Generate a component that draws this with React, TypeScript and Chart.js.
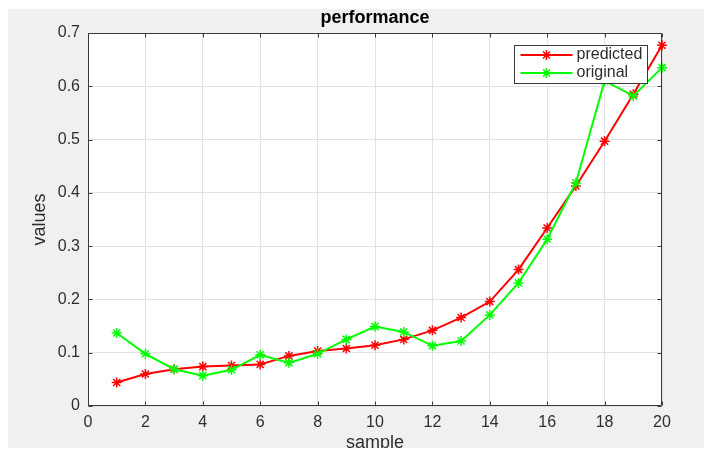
import { useEffect, useRef } from "react";
import { Chart, registerables } from "chart.js";

Chart.register(...registerables);

const samples = [1, 2, 3, 4, 5, 6, 7, 8, 9, 10, 11, 12, 13, 14, 15, 16, 17, 18, 19, 20];
const predicted = [0.044, 0.060, 0.069, 0.074, 0.076, 0.078, 0.094, 0.103, 0.108, 0.114, 0.125, 0.142, 0.166, 0.196, 0.256, 0.334, 0.413, 0.497, 0.585, 0.677];
const original = [0.137, 0.098, 0.069, 0.057, 0.068, 0.096, 0.081, 0.098, 0.125, 0.149, 0.139, 0.113, 0.122, 0.171, 0.231, 0.313, 0.419, 0.610, 0.582, 0.635];
const xTicks = [0, 2, 4, 6, 8, 10, 12, 14, 16, 18, 20];
const yTicks = [0, 0.1, 0.2, 0.3, 0.4, 0.5, 0.6, 0.7];
const seriesLabels = ["predicted", "original"];
const seriesColors = ["#ff0000", "#00ff00"];
const chartTitle = "performance";
const xTitle = "sample";
const yTitle = "values";

const FONT = "'Liberation Sans', Arial, Helvetica, sans-serif";
const AXIS_COLOR = "#3a3a3a";
const TEXT_COLOR = "#2e2e2e";

function drawStar(ctx: CanvasRenderingContext2D, x: number, y: number, r: number) {
  const d = r * Math.SQRT1_2;
  ctx.beginPath();
  ctx.moveTo(x - r, y);
  ctx.lineTo(x + r, y);
  ctx.moveTo(x, y - r);
  ctx.lineTo(x, y + r);
  ctx.moveTo(x - d, y - d);
  ctx.lineTo(x + d, y + d);
  ctx.moveTo(x - d, y + d);
  ctx.lineTo(x + d, y - d);
  ctx.stroke();
}

const framePlugin = {
  id: "matlabFrame",
  beforeDraw(chart: any) {
    const { ctx, chartArea: ca } = chart;
    ctx.save();
    ctx.fillStyle = "#ffffff";
    ctx.fillRect(ca.left, ca.top, ca.right - ca.left, ca.bottom - ca.top);
    ctx.restore();
  },
  afterDatasetsDraw(chart: any) {
    const { ctx, chartArea: ca } = chart;
    const xs = chart.scales.x;
    const ys = chart.scales.y;
    ctx.save();
    ctx.strokeStyle = AXIS_COLOR;
    ctx.lineWidth = 1;
    const L = Math.round(ca.left) + 0.5;
    const R = Math.round(ca.right) - 0.5;
    const T = Math.round(ca.top) + 0.5;
    const B = Math.round(ca.bottom) - 0.5;
    ctx.beginPath();
    ctx.rect(L, T, R - L, B - T);
    ctx.stroke();
    const tl = 4;
    ctx.beginPath();
    xTicks.forEach((v) => {
      const px = Math.round(xs.getPixelForValue(v)) + 0.5;
      ctx.moveTo(px, B);
      ctx.lineTo(px, B - tl);
      ctx.moveTo(px, T);
      ctx.lineTo(px, T + tl);
    });
    yTicks.forEach((v) => {
      const py = Math.round(ys.getPixelForValue(v)) + 0.5;
      ctx.moveTo(L, py);
      ctx.lineTo(L + tl, py);
      ctx.moveTo(R, py);
      ctx.lineTo(R - tl, py);
    });
    ctx.stroke();

    // legend box (inside axes, north-east)
    const w = 133;
    const h = 38;
    const x0 = Math.round(ca.right - 15 - w) + 0.5;
    const y0 = Math.round(ca.top + 12) + 0.5;
    ctx.fillStyle = "#ffffff";
    ctx.fillRect(x0, y0, w, h);
    ctx.strokeStyle = AXIS_COLOR;
    ctx.lineWidth = 1;
    ctx.strokeRect(x0, y0, w, h);
    seriesLabels.forEach((label, i) => {
      const yy = y0 + 9.5 + i * 18;
      ctx.strokeStyle = seriesColors[i];
      ctx.lineWidth = 2;
      ctx.beginPath();
      ctx.moveTo(x0 + 6, yy);
      ctx.lineTo(x0 + 58, yy);
      ctx.stroke();
      ctx.lineWidth = 1.5;
      drawStar(ctx, x0 + 32, yy, 5);
      ctx.fillStyle = TEXT_COLOR;
      ctx.font = `16px ${FONT}`;
      ctx.textBaseline = "middle";
      ctx.textAlign = "left";
      ctx.fillText(label, x0 + 62, yy);
    });
    ctx.restore();
  },
};

export default function App() {
  const ref = useRef<HTMLCanvasElement | null>(null);

  useEffect(() => {
    if (!ref.current) return;
    const toPts = (arr: number[]) => samples.map((s, i) => ({ x: s, y: arr[i] }));
    const chart = new Chart(ref.current, {
      type: "line",
      data: {
        datasets: [
          {
            label: seriesLabels[0],
            data: toPts(predicted),
            borderColor: seriesColors[0],
            backgroundColor: seriesColors[0],
            pointBorderColor: seriesColors[0],
            borderWidth: 2,
            pointStyle: "star",
            pointRadius: 5,
            pointBorderWidth: 1.5,
            tension: 0,
            clip: 12,
            order: 1,
          },
          {
            label: seriesLabels[1],
            data: toPts(original),
            borderColor: seriesColors[1],
            backgroundColor: seriesColors[1],
            pointBorderColor: seriesColors[1],
            borderWidth: 2,
            pointStyle: "star",
            pointRadius: 5,
            pointBorderWidth: 1.5,
            tension: 0,
            clip: 12,
            order: 0,
          },
        ],
      },
      options: {
        animation: false,
        responsive: false,
        devicePixelRatio: 1,
        layout: { padding: { left: 0, right: 42, top: 0, bottom: 0 } },
        plugins: {
          legend: { display: false },
          tooltip: { enabled: false },
          title: {
            display: true,
            text: chartTitle,
            fullSize: false,
            color: "#000000",
            font: { family: FONT, size: 18, weight: "bold", lineHeight: 1 },
            padding: { top: 0, bottom: 6 },
          },
        },
        scales: {
          x: {
            type: "linear",
            min: 0,
            max: 20,
            afterFit: (s: any) => {
              s.height = 42;
            },
            afterBuildTicks: (s: any) => {
              s.ticks = xTicks.map((v) => ({ value: v }));
            },
            ticks: {
              color: TEXT_COLOR,
              font: { family: FONT, size: 16 },
              padding: 7,
              maxRotation: 0,
              autoSkip: false,
            },
            grid: { color: "#e2e2e2", lineWidth: 1, drawTicks: false },
            border: { display: false },
            title: {
              display: true,
              text: xTitle,
              color: TEXT_COLOR,
              font: { family: FONT, size: 18, lineHeight: 1 },
              padding: { top: 0, bottom: -4 },
            },
          },
          y: {
            type: "linear",
            min: 0,
            max: 0.7,
            afterFit: (s: any) => {
              s.width = 80;
            },
            afterBuildTicks: (s: any) => {
              s.ticks = yTicks.map((v) => ({ value: v }));
            },
            ticks: {
              color: TEXT_COLOR,
              font: { family: FONT, size: 16 },
              padding: 8,
              autoSkip: false,
              callback: (v: any) => String(Math.round(Number(v) * 10) / 10),
            },
            grid: { color: "#e2e2e2", lineWidth: 1, drawTicks: false },
            border: { display: false },
            title: {
              display: true,
              text: yTitle,
              color: TEXT_COLOR,
              font: { family: FONT, size: 18, lineHeight: 1 },
              padding: { top: 23, bottom: 0 },
            },
          },
        },
      },
      plugins: [framePlugin],
    });
    return () => chart.destroy();
  }, []);

  return (
    <div
      style={{
        position: "fixed",
        left: 8,
        top: 9,
        width: 696,
        height: 439,
        background: "#f0f0f0",
      }}
    >
      <canvas ref={ref} width={696} height={439} style={{ display: "block" }} />
    </div>
  );
}
